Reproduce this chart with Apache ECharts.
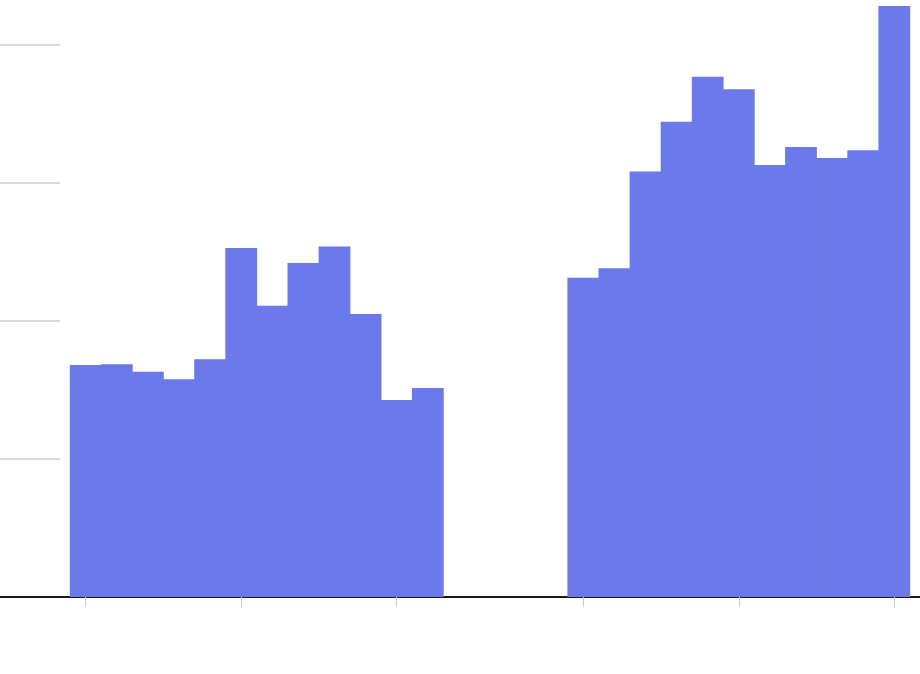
<!DOCTYPE html>
<html>
<head>
<meta charset="utf-8">
<script src="https://cdn.jsdelivr.net/npm/echarts@6/dist/echarts.min.js"></script>
<style>
html,body{margin:0;padding:0;background:#fff;}
#chart{width:920px;height:674px;}
</style>
</head>
<body>
<div id="chart"></div>
<script>
// Values (y units: 100 per gridline). null = no bar.
const values = [
  168.1, 168.6, 163.3, 157.7, 172.2, 252.9, 211.0, 242.0, 254.0, 205.1, 142.8, 151.4,
  null, null, null, null,
  231.4, 238.2, 308.4, 344.4, 377.0, 367.9, 313.0, 326.1, 318.1, 323.7, 428.3
];
const xTickPositions = [0, 5, 10, 16, 21, 26];
const yTickValues = [100, 200, 300, 400];

const barData = [];
values.forEach(function (v, i) { if (v !== null) barData.push([i, v]); });

const chart = echarts.init(document.getElementById('chart'));
chart.setOption({
  animation: false,
  backgroundColor: '#ffffff',
  grid: { left: 0, right: 0, top: 0, bottom: 77, containLabel: false, outerBoundsMode: 'none' },
  xAxis: {
    type: 'value',
    min: -2.756,
    max: 26.826,
    axisLine: { show: true, onZero: false, lineStyle: { color: '#1a1a1a', width: 2 } },
    axisTick: { show: true, length: 10, customValues: xTickPositions, lineStyle: { color: '#cccccc', width: 1 } },
    axisLabel: { show: false },
    splitLine: { show: false }
  },
  yAxis: {
    type: 'value',
    position: 'left',
    min: 0,
    max: 432.6,
    axisLine: { show: false, onZero: false },
    axisTick: { show: true, inside: true, length: 60, customValues: yTickValues, lineStyle: { color: '#dadada', width: 2 } },
    axisLabel: { show: false },
    splitLine: { show: false }
  },
  series: [{
    type: 'bar',
    data: barData,
    barWidth: 31.8,
    barGap: '-100%',
    itemStyle: { color: '#6b79eb', borderWidth: 0 }
  }]
});
</script>
</body>
</html>
